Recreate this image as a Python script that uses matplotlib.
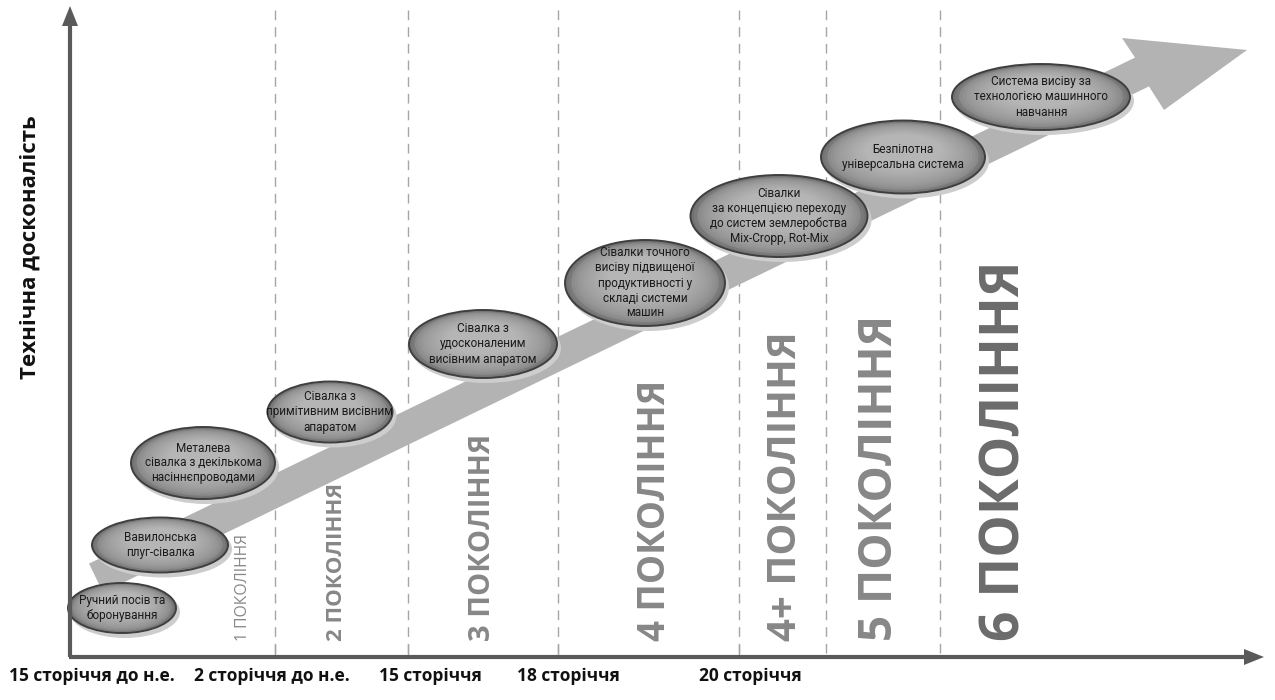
import numpy as np
import matplotlib
matplotlib.use('Agg')
import matplotlib.pyplot as plt
from matplotlib.patches import Ellipse, Polygon

plt.rcParams['font.family'] = ['Open Sans', 'DejaVu Sans']

# stages of seeder development (ellipses along the big arrow)
stage_labels = ['Ручний посів та\nборонування',
                'Вавилонська\nплуг-сівалка',
                'Металева\nсівалка з декількома\nнасіннєпроводами',
                'Сівалка з\nпримітивним висівним\nапаратом',
                'Сівалка з\nудосконаленим\nвисівним апаратом',
                'Сівалки точного\nвисіву підвищеної\nпродуктивності у\nскладі системи\nмашин',
                'Сівалки\nза концепцією переходу\nдо систем землеробства\nMix-Cropp, Rot-Mix',
                'Безпілотна\nуніверсальна система',
                'Система висіву за\nтехнологією машинного\nнавчання']
stage_x = [122, 160, 203, 330, 483, 645, 779, 903, 1041]
stage_y = [608, 545, 463, 412, 344, 283, 216, 157, 97]
stage_w = [108, 136, 144, 125, 148, 160, 177, 164, 178]
stage_h = [50, 55, 72, 61, 68, 86, 82, 73, 66]

# generations (vertical labels) and their boundaries
gen_labels = ['1 ПОКОЛІННЯ', '2 ПОКОЛІННЯ', '3 ПОКОЛІННЯ', '4 ПОКОЛІННЯ',
              '4+ ПОКОЛІННЯ', '5 ПОКОЛІННЯ', '6 ПОКОЛІННЯ']
gen_x = [243, 337, 483, 655, 785, 880, 1005]
gen_size = [11.3, 16, 21, 26.5, 29, 33, 38.5]
bounds = [275, 408, 558, 739, 826, 940]

# time labels under the horizontal axis
time_labels = ['15 сторіччя до н.е.', '2 сторіччя до н.е.', '15 сторіччя',
               '18 сторіччя', '20 сторіччя']
time_x = [92, 272, 430, 568, 750]

# big arrow: tail, end of shaft, head corners, tip
tail = np.array([96.0, 578.0])
neck = np.array([1142.0, 72.0])
head_a = np.array([1122.0, 38.0])
head_b = np.array([1164.0, 110.0])
tip = np.array([1247.0, 50.0])
shaft_w = 32

fig = plt.figure(figsize=(12.75, 7), dpi=100)
ax = fig.add_axes([0, 0, 1, 1])
ax.set_xlim(0, 1275)
ax.set_ylim(700, 0)
ax.axis('off')

d = (neck - tail) / np.linalg.norm(neck - tail)
p = np.array([d[1], -d[0]]) * shaft_w / 2
ax.add_patch(Polygon([tail + p, neck + p, head_a, tip, head_b, neck - p, tail - p],
                     closed=True, color='#b3b3b3', lw=0, zorder=1))

# dashed boundaries
for x in bounds:
    ax.plot([x, x], [10, 657], color='#a6a6a6', lw=1, ls=(0, (7, 5)), zorder=0)

# generation labels
for i in range(len(gen_labels)):
    ax.text(gen_x[i], 641, gen_labels[i], rotation=90, ha='center', va='bottom',
            fontsize=gen_size[i], color='#6b6b6b' if i == 6 else '#878787',
            fontweight='normal' if i == 0 else 'bold', zorder=2)

# ellipses with simple shading
shades = np.linspace(0, 1, 14)
for i in range(len(stage_labels)):
    cx, cy, w, h = stage_x[i], stage_y[i], stage_w[i], stage_h[i]
    ax.add_patch(Ellipse((cx + 3, cy + 4), w + 2, h + 2, color='#cdcdcd', lw=0,
                         zorder=3))
    ax.add_patch(Ellipse((cx, cy), w, h, facecolor='#727272', edgecolor='#3f3f3f',
                         lw=1.4, zorder=4))
    for s in shades:
        f = 0.96 - 0.5 * s
        g = 0.48 + 0.23 * np.sqrt(s)
        ax.add_patch(Ellipse((cx, cy - h * 0.08 * s), w * f, h * f,
                             color=(g, g, g), lw=0, zorder=5))
    ax.text(cx, cy, stage_labels[i], ha='center', va='center', fontsize=8.5,
            family=['Roboto', 'DejaVu Sans'], color='#1a1a1a', linespacing=1.2,
            zorder=6)

# axes with arrows
ax.plot([70, 70], [657, 22], color='#5a5a5a', lw=3, solid_capstyle='butt', zorder=7)
ax.add_patch(Polygon([[62, 26], [78, 26], [70, 6]], closed=True, color='#5a5a5a',
                     lw=0, zorder=7))
ax.plot([68.5, 1248], [657, 657], color='#5a5a5a', lw=3, solid_capstyle='butt',
        zorder=7)
ax.add_patch(Polygon([[1244, 649], [1244, 665], [1264, 657]], closed=True,
                     color='#5a5a5a', lw=0, zorder=7))
for x in bounds[:4]:
    ax.plot([x, x], [645, 657], color='#a6a6a6', lw=1, zorder=6)

ax.text(30, 247, 'Технічна досконалість', rotation=90, ha='center', va='center',
        fontsize=16, fontweight='bold', color='#111111')

for i in range(len(time_labels)):
    ax.text(time_x[i], 676, time_labels[i], ha='center', va='center',
            fontsize=12.5, fontweight='bold', color='#111111')

fig.savefig('out.png', dpi=100)
